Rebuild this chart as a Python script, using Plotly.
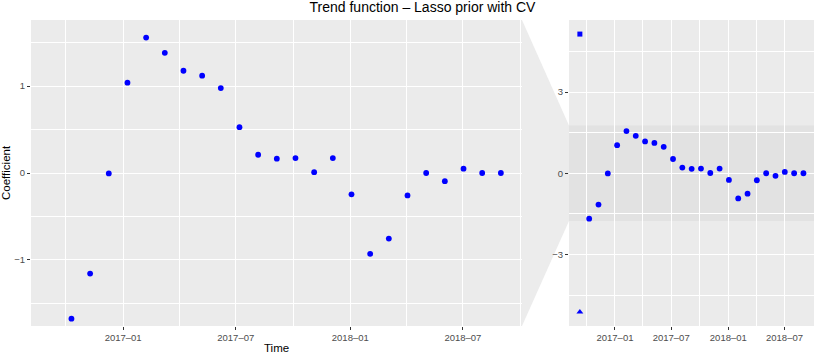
import plotly.graph_objects as go

# Trend coefficients, one point per 30-day step
trend_dates = [
    "2016-10-10", "2016-11-09", "2016-12-09", "2017-01-08", "2017-02-07",
    "2017-03-09", "2017-04-08", "2017-05-08", "2017-06-07", "2017-07-07",
    "2017-08-06", "2017-09-05", "2017-10-05", "2017-11-04", "2017-12-04",
    "2018-01-03", "2018-02-02", "2018-03-04", "2018-04-03", "2018-05-03",
    "2018-06-02", "2018-07-02", "2018-08-01", "2018-08-31",
]
trend_coef = [
    -1.676, -1.157, -0.005, 1.039, 1.558, 1.382, 1.176, 1.119, 0.977, 0.527,
    0.210, 0.165, 0.172, 0.010, 0.172, -0.245, -0.930, -0.754, -0.258, 0.000,
    -0.094, 0.050, 0.000, 0.000,
]
# first step, shown as square (upper) and triangle (lower)
start_date = ["2016-09-10"]
upper_coef = [5.14]
lower_coef = [-5.12]

tick_vals = ["2017-01-01", "2017-07-01", "2018-01-01", "2018-07-01"]
tick_text = ["2017\u201301", "2017\u201307", "2018\u201301", "2018\u201307"]

x_range = ["2016-08-06", "2018-10-04"]
zoom_range = [-1.76, 1.76]
full_range = [-5.64, 5.66]

FONT = "Liberation Sans, Arial, sans-serif"
BLUE = "#0000ff"

fig = go.Figure()

# same three series in both panels (left = zoom, right = full view)
for xa, ya in [("x", "y"), ("x2", "y2")]:
    fig.add_trace(go.Scatter(x=trend_dates, y=trend_coef, mode="markers",
                             marker=dict(color=BLUE, size=5.8, symbol="circle"),
                             xaxis=xa, yaxis=ya, showlegend=False))
    fig.add_trace(go.Scatter(x=start_date, y=upper_coef, mode="markers",
                             marker=dict(color=BLUE, size=5, symbol="square"),
                             xaxis=xa, yaxis=ya, showlegend=False))
    fig.add_trace(go.Scatter(x=start_date, y=lower_coef, mode="markers",
                             marker=dict(color=BLUE, size=6, symbol="triangle-up"),
                             xaxis=xa, yaxis=ya, showlegend=False))

tick_font = dict(family=FONT, size=9.5, color="#4d4d4d")

xaxis_common = dict(
    type="date", range=x_range, tickvals=tick_vals, ticktext=tick_text,
    ticks="outside", ticklen=3, tickwidth=1, tickcolor="#333333",
    tickfont=tick_font, showgrid=True, gridcolor="white", gridwidth=1.1,
    minor=dict(dtick="M3", tick0="2017-01-01", showgrid=True,
               gridcolor="white", gridwidth=0.55, ticks=""),
    zeroline=False, showline=False, fixedrange=True, automargin=False,
)

yaxis_common = dict(
    ticks="outside", ticklen=3, tickwidth=1, tickcolor="#333333",
    tickfont=tick_font, showgrid=True, gridcolor="white", gridwidth=1.1,
    zeroline=False, showline=False, automargin=False,
)

# panel layout in pixels: plot area 31..814 x 20..326
left_dom = [0, 0.6271]
right_dom = [0.6871, 1]

fig.update_layout(
    width=830, height=356,
    margin=dict(l=31, r=16, t=20, b=30, autoexpand=False),
    paper_bgcolor="white", plot_bgcolor="#ebebeb",
    font=dict(family=FONT, color="black"),
    xaxis=dict(xaxis_common, domain=left_dom, anchor="y"),
    xaxis2=dict(xaxis_common, domain=right_dom, anchor="y2"),
    yaxis=dict(yaxis_common, domain=[0, 1], anchor="x", range=zoom_range,
               tickvals=[-1, 0, 1],
               minor=dict(dtick=0.5, tick0=0, showgrid=True,
                          gridcolor="white", gridwidth=0.55, ticks="")),
    yaxis2=dict(yaxis_common, domain=[0, 1], anchor="x2", range=full_range,
                tickvals=[-3, 0, 3],
                minor=dict(dtick=1.5, tick0=0, showgrid=True,
                           gridcolor="white", gridwidth=0.55, ticks="")),
    title=dict(text="Trend function \u2013 Lasso prior with CV",
               font=dict(family=FONT, size=14, color="black"),
               x=0.5, xref="paper", xanchor="center",
               y=1 - 7 / 356, yref="container", yanchor="middle"),
)

# zoom band inside the full panel
fig.add_shape(type="rect", xref="x2 domain", yref="y2",
              x0=0, x1=1, y0=zoom_range[0], y1=zoom_range[1],
              fillcolor="#e2e2e2", line_width=0, layer="below")

# trapezoid linking the zoom panel to the band
span = full_range[1] - full_range[0]
band_lo = (zoom_range[0] - full_range[0]) / span
band_hi = (zoom_range[1] - full_range[0]) / span
x0, x1 = left_dom[1], right_dom[0]
fig.add_shape(type="path", xref="paper", yref="paper",
              path=f"M {x0},1 L {x1},{band_hi} L {x1},{band_lo} L {x0},0 Z",
              fillcolor="#ececec", line_width=0, layer="below")

fig.add_annotation(text="Time", xref="paper", yref="paper",
                   x=(276.5 - 31) / 783, y=-(348 - 326) / 306,
                   xanchor="center", yanchor="middle", showarrow=False,
                   font=dict(family=FONT, size=11.5, color="black"))
fig.add_annotation(text="Coefficient", xref="paper", yref="paper",
                   x=(6 - 31) / 783, y=0.5, textangle=-90,
                   xanchor="center", yanchor="middle", showarrow=False,
                   font=dict(family=FONT, size=11.5, color="black"))

# drop the page's default body margin so the figure sits at the window's corner
fig.write_html("out.html", config={"displayModeBar": False},
               post_script="document.body.style.margin='0';document.body.style.overflow='hidden';")
